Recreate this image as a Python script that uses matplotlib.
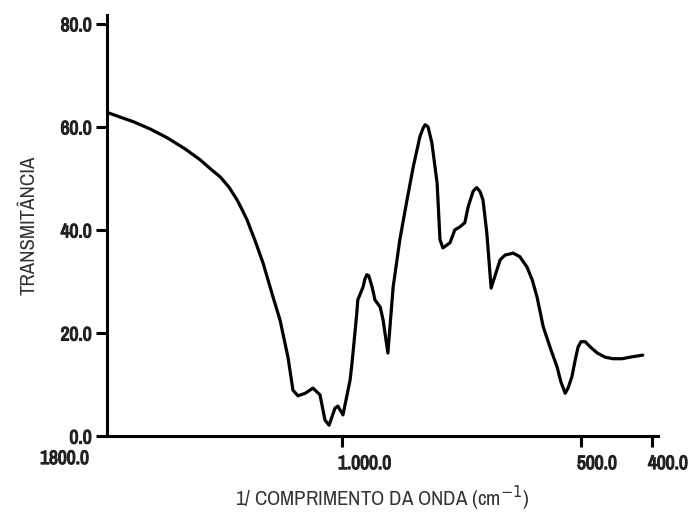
import numpy as np
import matplotlib.pyplot as plt
import matplotlib.patheffects as pe
from matplotlib import font_manager
from matplotlib.scale import FuncScale
from matplotlib.transforms import blended_transform_factory, ScaledTranslation

# prefer a narrow face, the original uses a condensed font
fonts = font_manager.fontManager.ttflist
names = {f.name for f in fonts}
narrow = [n for n in ['Liberation Sans Narrow'] if n in names]
narrow += sorted(n for n in names if ('Narrow' in n or 'Condensed' in n) and n not in narrow)
plt.rcParams['font.family'] = narrow + ['DejaVu Sans']
has_bold = any(f.name == narrow[0] and f.weight in (700, 'bold') for f in fonts) if narrow else True

# spectrum (wavenumber in cm-1, transmittance)
wavenumber = [1800, 1756, 1711, 1654, 1596, 1534, 1483, 1443, 1415, 1385, 1357,
              1340, 1323, 1296, 1269, 1252, 1235, 1211,
              1184, 1167, 1150, 1125, 1099, 1075, 1058, 1044, 1024, 1014, 998,
              983, 979, 969, 967, 956, 952, 948, 944, 937, 931, 920, 914, 904, 893, 879,
              864, 851, 837, 830, 826, 820, 812, 801, 795, 789, 774, 764, 753, 743, 736,
              726, 722, 718, 711, 705, 697, 688, 676, 669, 659, 642, 628, 613, 602, 592,
              579, 565, 550, 542, 533, 527, 519, 512, 506, 500, 494, 487, 477, 466, 455,
              442, 431, 413]
transmittance = [62.8, 61.9, 61.0, 59.6, 57.9, 55.7, 53.6, 51.6, 50.3, 48.3, 45.8,
                 43.9, 41.9, 37.9, 33.6, 30.3, 27.0, 22.5,
                 15.3, 8.9, 7.8, 8.3, 9.3, 8.0, 3.1, 2.1, 5.4, 5.8, 4.1,
                 10.9, 14.2, 23.9, 26.4, 28.9, 30.5, 31.3, 31.1, 28.9, 26.4, 25.0, 22.5, 16.1, 28.9, 38.1,
                 45.8, 52.2, 58.1, 59.8, 60.4, 60.0, 56.9, 49.1, 38.1, 36.5, 37.5, 40.0, 40.6, 41.4, 44.5,
                 47.4, 47.9, 48.2, 47.4, 45.8, 39.4, 28.7, 32.2, 34.2, 35.1, 35.5, 34.8, 32.8, 30.3, 27.0,
                 21.2, 17.3, 13.4, 10.5, 8.3, 9.3, 11.5, 14.8, 17.3, 18.3, 18.3, 17.3, 16.1, 15.3, 15.0,
                 15.0, 15.3, 15.7]

xticks = [1800, 1000, 500, 400]
xtick_labels = ['1800.0', '1.000.0', '500.0', '400.0']
yticks = [0, 20, 40, 60, 80]
ytick_labels = ['0.0', '20.0', '40.0', '60.0', '80.0']

# the printed axis is not linear: piecewise mapping between the labelled ticks
scale_w = [300, 391.5, 400, 500, 1000, 1800]
scale_p = [-616, -551, -545, -474, -235, 0]


def forward(w):
    return np.interp(w, scale_w, scale_p)


def inverse(p):
    return np.interp(p, scale_p, scale_w)


fig = plt.figure(figsize=(6.91, 5.16), dpi=100)
ax = fig.add_axes([0.1549, 0.155, 0.7973, 0.816])

ax.plot(wavenumber, transmittance, color='black', lw=2.3,
        solid_joinstyle='round', solid_capstyle='round')

ax.set_xscale(FuncScale(ax, (forward, inverse)))
ax.set_xlim(1800, 391.5)
ax.set_ylim(0, 81.7)

for side in ['top', 'right']:
    ax.spines[side].set_visible(False)
for side in ['left', 'bottom']:
    ax.spines[side].set_linewidth(2.2)

tick_font = dict(fontsize=14, fontweight='bold', color='#222222')
if not has_bold:
    tick_font['path_effects'] = [pe.withStroke(linewidth=0.9, foreground='#222222')]
ax.set_yticks(yticks)
ax.set_yticklabels(ytick_labels, **tick_font)
ax.set_xticks(xticks)
ax.set_xticklabels([''] + xtick_labels[1:], ha='left', **tick_font)
ax.tick_params(axis='y', length=8, width=2.2, pad=3)
ax.tick_params(axis='x', length=8, width=2.2, pad=5)
ax.xaxis.get_major_ticks()[0].tick1line.set_visible(False)
shift = ScaledTranslation(-4 / 100, 0, fig.dpi_scale_trans)
for lbl in ax.get_xticklabels():
    lbl.set_transform(lbl.get_transform() + shift)

# 1800.0 sits left of the corner
tr = blended_transform_factory(ax.transData, ax.transAxes)
ax.text(1800, 0, xtick_labels[0],
        transform=tr + ScaledTranslation(-18 / 100, -13 / 100, fig.dpi_scale_trans),
        ha='right', va='top', **tick_font)

ax.set_ylabel('TRANSMITÂNCIA', fontsize=15, color='#333333', labelpad=16)
ax.set_xlabel('1/ COMPRIMENTO DA ONDA (cm$^{-1}$)', fontsize=15, color='#333333', labelpad=8)

plt.savefig('out.png', dpi=100)
